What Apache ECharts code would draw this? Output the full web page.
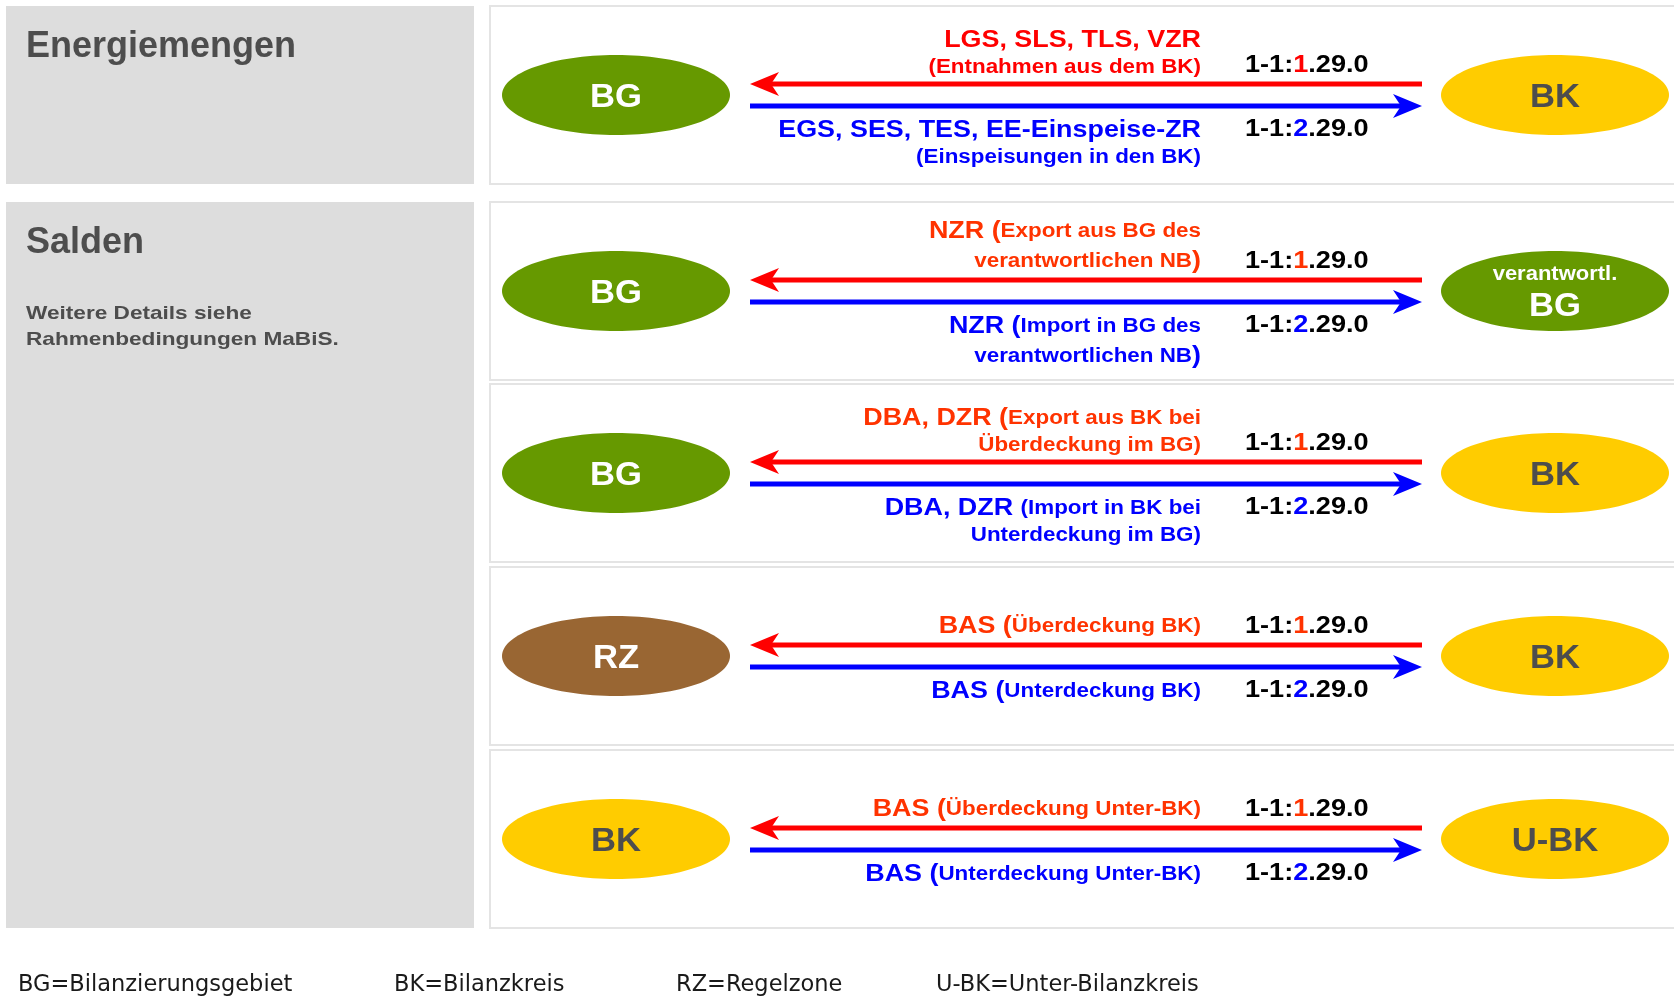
<!DOCTYPE html>
<html>
<head>
<meta charset="utf-8">
<title>Energiemengen und Salden</title>
<script src="https://cdn.jsdelivr.net/npm/echarts@6/dist/echarts.min.js"></script>
<style>
  html, body { margin: 0; padding: 0; background: #fff; }
  #main { width: 1674px; height: 1001px; }
</style>
</head>
<body>
<div id="main"></div>
<script>
// ---- Inhalte ----
var sectionTitles = ['Energiemengen', 'Salden'];
var sectionNotes = ['', 'Weitere Details siehe\nRahmenbedingungen MaBiS.'];
var sectionRows = [[0, 0], [1, 4]];

var leftNodes = ['BG', 'BG', 'BG', 'RZ', 'BK'];
var rightNodes = ['BK', 'BG', 'BK', 'BK', 'U-BK'];
var rightNotes = ['', 'verantwortl.', '', '', ''];

var redLabels = [
  '{b|LGS, SLS, TLS, VZR}\n{s|(Entnahmen aus dem BK)}',
  '{b|NZR (}{s|Export aus BG des}\n{s|verantwortlichen NB}{b|)}',
  '{b|DBA, DZR (}{s|Export aus BK bei}\n{s|Überdeckung im BG)}',
  '{b|BAS (}{s|Überdeckung BK)}',
  '{b|BAS (}{s|Überdeckung Unter-BK)}'
];
var blueLabels = [
  '{b|EGS, SES, TES, EE-Einspeise-ZR}\n{s|(Einspeisungen in den BK)}',
  '{b|NZR (}{s|Import in BG des}\n{s|verantwortlichen NB}{b|)}',
  '{b|DBA, DZR }{s|(Import in BK bei}\n{s|Unterdeckung im BG)}',
  '{b|BAS (}{s|Unterdeckung BK)}',
  '{b|BAS (}{s|Unterdeckung Unter-BK)}'
];
var redCodes = ['1-1:1.29.0', '1-1:1.29.0', '1-1:1.29.0', '1-1:1.29.0', '1-1:1.29.0'];
var blueCodes = ['1-1:2.29.0', '1-1:2.29.0', '1-1:2.29.0', '1-1:2.29.0', '1-1:2.29.0'];

var legendItems = ['BG=Bilanzierungsgebiet', 'BK=Bilanzkreis', 'RZ=Regelzone', 'U-BK=Unter-Bilanzkreis'];

// ---- Stil ----
var FONT = '"Liberation Sans", Arial, sans-serif';
var GREY_TEXT = '#4d4d4d';
var NODE_FILL = { 'BG': '#669900', 'BK': '#ffcc00', 'RZ': '#996633', 'U-BK': '#ffcc00' };
var NODE_TEXT = { 'BG': '#ffffff', 'BK': '#4d4d4d', 'RZ': '#ffffff', 'U-BK': '#4d4d4d' };
var RED = '#ff0000';
var BLUE = '#0000ff';
var redText = ['#ff0000', '#ff3300', '#ff3300', '#ff3300', '#ff3300'];

// ---- Layout (Achseneinheiten = Pixel) ----
var W = 1674, H = 1001;
var SECTION_X0 = 6, SECTION_X1 = 474;
var PANEL_X = 490, PANEL_H = 178;
var panelTop = [6, 202, 384, 567, 750];
var LEFT_CX = 616, RIGHT_CX = 1555, RX = 114, RY = 40;
var ARROW_X0 = 750, ARROW_X1 = 1422, ARROW_DY = 11;
var LABEL_X = 1201, CODE_X = 1245;
var legendX = [18, 394, 676, 936], LEGEND_Y = 987;
var STRETCH = 1.12;

function text(api, x, y, style, sx) {
  var p = api.coord([x, y]);
  return {
    type: 'text', x: p[0], y: p[1], scaleX: sx || 1,
    style: Object.assign({ x: 0, y: 0, fontFamily: FONT, fontWeight: 'bold' }, style)
  };
}

function richStyle(color) {
  return {
    b: { fontSize: 24, fontWeight: 'bold', fontFamily: FONT, fill: color, lineHeight: 30 },
    s: { fontSize: 20, fontWeight: 'bold', fontFamily: FONT, fill: color, lineHeight: 25 }
  };
}

function node(api, cx, cy, name, note) {
  var c = api.coord([cx, cy]);
  var r = api.size([RX, RY]);
  var kids = [{
    type: 'ellipse', shape: { cx: c[0], cy: c[1], rx: r[0], ry: r[1] },
    style: { fill: NODE_FILL[name] }
  }];
  if (note) {
    kids.push(text(api, cx, cy - 17, { text: note, fontSize: 20, fill: NODE_TEXT[name], align: 'center', verticalAlign: 'middle' }, 1.1));
    kids.push(text(api, cx, cy + 16, { text: name, fontSize: 33, fill: NODE_TEXT[name], align: 'center', verticalAlign: 'middle' }, 1.05));
  } else {
    kids.push(text(api, cx, cy + 3, { text: name, fontSize: 33, fill: NODE_TEXT[name], align: 'center', verticalAlign: 'middle' }, 1.05));
  }
  return { type: 'group', children: kids };
}

function arrow(api, xFrom, xTo, y, color) {
  var p0 = api.coord([xFrom, y]), p1 = api.coord([xTo, y]);
  var dir = p1[0] > p0[0] ? 1 : -1;
  var L = 29, HW = 12, N = 8, tip = p1[0], ty = p1[1];
  return {
    type: 'group', children: [
      { type: 'line', shape: { x1: p0[0], y1: p0[1], x2: tip - dir * (L - N), y2: ty }, style: { stroke: color, lineWidth: 5 } },
      { type: 'polygon', shape: { points: [[tip, ty], [tip - dir * L, ty - HW], [tip - dir * (L - N), ty], [tip - dir * L, ty + HW]] }, style: { fill: color } }
    ]
  };
}

function codeText(code) {
  var m = code.match(/^(.*:)(\d)(.*)$/);
  return '{k|' + m[1] + '}{c|' + m[2] + '}{k|' + m[3] + '}';
}

function renderSection(params, api) {
  var s = api.value(0);
  var top = panelTop[sectionRows[s][0]];
  var bottom = panelTop[sectionRows[s][1]] + PANEL_H;
  var a = api.coord([SECTION_X0, top]), b = api.coord([SECTION_X1, bottom]);
  var kids = [
    { type: 'rect', shape: { x: a[0], y: a[1], width: b[0] - a[0], height: b[1] - a[1] }, style: { fill: '#dddddd' } },
    text(api, 26, top + 41, { text: sectionTitles[s], fontSize: 36, fill: GREY_TEXT, align: 'left', verticalAlign: 'middle' })
  ];
  if (sectionNotes[s]) {
    kids.push(text(api, 26, top + 125, { text: sectionNotes[s], fontSize: 19, lineHeight: 26, fill: GREY_TEXT, align: 'left', verticalAlign: 'middle' }, 1.19));
  }
  return { type: 'group', children: kids };
}

function renderRow(params, api) {
  var i = api.value(0);
  var top = panelTop[i], cy = top + PANEL_H / 2;
  var a = api.coord([PANEL_X, top]), b = api.coord([W + 10, top + PANEL_H]);
  var codeRich = function (c) {
    return {
      k: { fontSize: 24, fontWeight: 'bold', fontFamily: FONT, fill: '#000000' },
      c: { fontSize: 24, fontWeight: 'bold', fontFamily: FONT, fill: c }
    };
  };
  var kids = [
    { type: 'rect', shape: { x: a[0], y: a[1], width: b[0] - a[0], height: b[1] - a[1] }, style: { fill: '#ffffff', stroke: '#e4e4e4', lineWidth: 2 } },
    node(api, LEFT_CX, cy, leftNodes[i], ''),
    node(api, RIGHT_CX, cy, rightNodes[i], rightNotes[i]),
    arrow(api, ARROW_X1, ARROW_X0, cy - ARROW_DY, RED),
    arrow(api, ARROW_X0, ARROW_X1, cy + ARROW_DY, BLUE),
    text(api, LABEL_X, cy - 15, { text: redLabels[i], rich: richStyle(redText[i]), fill: redText[i], align: 'right', verticalAlign: 'bottom' }, STRETCH),
    text(api, LABEL_X, cy + 20, { text: blueLabels[i], rich: richStyle(BLUE), fill: BLUE, align: 'right', verticalAlign: 'top' }, STRETCH),
    text(api, CODE_X, cy - 29.5, { text: codeText(redCodes[i]), rich: codeRich(redText[i]), align: 'left', verticalAlign: 'middle' }, 1.13),
    text(api, CODE_X, cy + 34.5, { text: codeText(blueCodes[i]), rich: codeRich(BLUE), align: 'left', verticalAlign: 'middle' }, 1.13)
  ];
  return { type: 'group', children: kids };
}

var chart = echarts.init(document.getElementById('main'));
chart.setOption({
  animation: false,
  backgroundColor: '#ffffff',
  grid: { left: 0, right: 0, top: 0, bottom: 0 },
  xAxis: { type: 'value', min: 0, max: W, show: false },
  yAxis: { type: 'value', min: 0, max: H, inverse: true, show: false },
  tooltip: { show: false },
  series: [
    {
      type: 'custom', name: 'sections', silent: true,
      data: sectionTitles.map(function (t, i) { return [i, i]; }),
      renderItem: renderSection
    },
    {
      type: 'custom', name: 'rows', silent: true,
      data: leftNodes.map(function (n, i) { return [i, i]; }),
      renderItem: renderRow
    }
  ],
  graphic: legendItems.map(function (t, i) {
    return {
      type: 'text', left: legendX[i], top: LEGEND_Y - 13,
      style: { text: t, fontSize: 22.5, fontFamily: '"DejaVu Sans", sans-serif', fill: '#1a1a1a' }
    };
  })
});
</script>
</body>
</html>
